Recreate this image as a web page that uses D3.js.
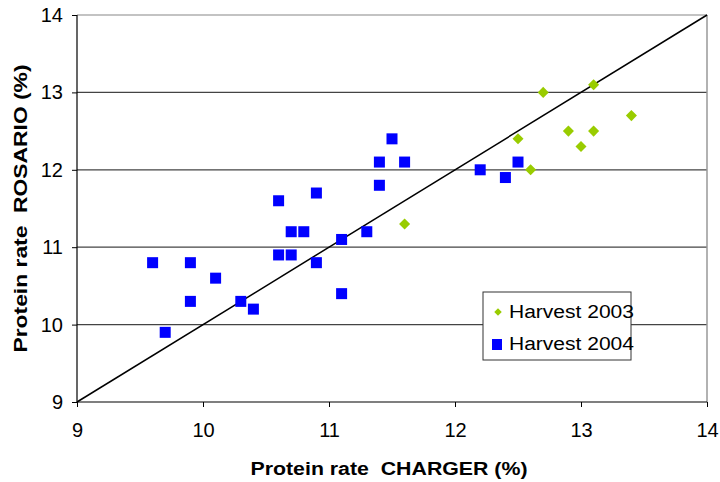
<!DOCTYPE html>
<html>
<head>
<meta charset="utf-8">
<script src="https://cdn.jsdelivr.net/npm/d3@7"></script>
<style>
  html, body { margin: 0; padding: 0; background: #fff; }
  svg { display: block; font-family: "Liberation Sans", Arial, sans-serif; }
</style>
</head>
<body>
<svg id="chart" width="720" height="482"></svg>
<script>
// Harvest 2003 (green diamonds): CHARGER x, ROSARIO y
const charger2003 = [11.6, 12.7, 12.5, 12.6, 12.9, 13.0, 13.1, 13.1, 13.4];
const rosario2003 = [11.3, 13.0, 12.4, 12.0, 12.5, 12.3, 12.5, 13.1, 12.7];
// Harvest 2004 (blue squares)
const charger2004 = [9.6, 9.7, 9.9, 9.9, 10.1, 10.3, 10.4, 10.6, 10.6, 10.7, 10.7, 10.8,
                     10.9, 10.9, 11.1, 11.1, 11.3, 11.4, 11.4, 11.5, 11.6, 12.2, 12.4, 12.5];
const rosario2004 = [10.8, 9.9, 10.8, 10.3, 10.6, 10.3, 10.2, 11.6, 10.9, 11.2, 10.9, 11.2,
                     11.7, 10.8, 11.1, 10.4, 11.2, 12.1, 11.8, 12.4, 12.1, 12.0, 11.9, 12.1];
const xTicks = [9, 10, 11, 12, 13, 14];
const yTicks = [9, 10, 11, 12, 13, 14];
const diagonal = [9, 14];
const seriesNames = ["Harvest 2003", "Harvest 2004"];

(function () {
const svg = d3.select("#chart");
const pL = 77, pR = 707, pT = 15, pB = 402;
const x = d3.scaleLinear().domain([9, 14]).range([pL, pR]);
const y = d3.scaleLinear().domain([9, 14]).range([pB, pT]);

// gridlines
svg.append("g").selectAll("line").data(yTicks.filter(t => t > 9)).join("line")
  .attr("x1", pL).attr("x2", pR)
  .attr("y1", d => y(d)).attr("y2", d => y(d))
  .attr("stroke", d => d === 14 ? "#888" : "#444").attr("stroke-width", 1.2);
// right border
svg.append("line").attr("x1", pR).attr("x2", pR).attr("y1", pT).attr("y2", pB)
  .attr("stroke", "#999").attr("stroke-width", 1.5);

// axes
const xAxis = d3.axisBottom(x).tickValues(xTicks).tickSize(5).tickPadding(20).tickFormat(d3.format("d"));
const gx = svg.append("g").attr("transform", `translate(0,${pB})`).call(xAxis);
const yAxis = d3.axisLeft(y).tickValues(yTicks).tickSize(5).tickPadding(9).tickFormat(d3.format("d"));
const gy = svg.append("g").attr("transform", `translate(${pL},0)`).call(yAxis);
[gx, gy].forEach(g => {
  g.select(".domain").attr("stroke", "#000").attr("stroke-width", 1.2);
  g.selectAll(".tick line").attr("stroke", "#000");
  g.selectAll(".tick text").attr("font-size", 20).attr("fill", "#000")
    .attr("font-family", "Liberation Sans, Arial, sans-serif");
});
gx.selectAll(".tick text").attr("dy", "0.5em");
gx.select(".domain").attr("d", `M${pL},0H${pR}`);
gy.select(".domain").attr("d", `M0,${pT}V${pB}`);

// diagonal
svg.append("line")
  .attr("x1", x(diagonal[0])).attr("y1", y(diagonal[0]))
  .attr("x2", x(diagonal[1])).attr("y2", y(diagonal[1]))
  .attr("stroke", "#000").attr("stroke-width", 1.5);

// 2004 squares
const sq = 11;
svg.append("g").selectAll("rect").data(charger2004.map((c, i) => [c, rosario2004[i]])).join("rect")
  .attr("x", d => x(d[0]) - sq / 2).attr("y", d => y(d[1]) - sq / 2)
  .attr("width", sq).attr("height", sq).attr("fill", "#0000ff");

// 2003 diamonds
const diamond = d3.symbol().type(d3.symbolDiamond2).size(78);
svg.append("g").selectAll("path").data(charger2003.map((c, i) => [c, rosario2003[i]])).join("path")
  .attr("d", diamond)
  .attr("transform", d => `translate(${x(d[0])},${y(d[1])})`)
  .attr("fill", "#99cc00");

// legend
const lg = svg.append("g");
lg.append("rect").attr("x", 483).attr("y", 292).attr("width", 148).attr("height", 68)
  .attr("fill", "#fff").attr("stroke", "#333").attr("stroke-width", 1);
lg.append("path").attr("d", d3.symbol().type(d3.symbolDiamond2).size(36))
  .attr("transform", "translate(498,312)").attr("fill", "#99cc00");
lg.append("rect").attr("x", 492).attr("y", 339).attr("width", 10).attr("height", 11).attr("fill", "#0000ff");
lg.selectAll("text").data(seriesNames).join("text")
  .attr("x", 509).attr("y", (d, i) => 318 + i * 32)
  .attr("font-size", 18).attr("fill", "#000")
  .attr("textLength", 125).attr("lengthAdjust", "spacingAndGlyphs")
  .text(d => d);

// axis titles
svg.append("text").attr("x", 389).attr("y", 475)
  .attr("text-anchor", "middle").attr("font-weight", "bold").attr("font-size", 18)
  .attr("textLength", 277).attr("lengthAdjust", "spacingAndGlyphs")
  .style("white-space", "pre").text("Protein rate  CHARGER (%)");
svg.append("text").attr("transform", `translate(27,${(pT + pB) / 2}) rotate(-90)`)
  .attr("text-anchor", "middle").attr("font-weight", "bold").attr("font-size", 18)
  .attr("textLength", 288).attr("lengthAdjust", "spacingAndGlyphs")
  .style("white-space", "pre").text("Protein rate  ROSARIO (%)");
})();
</script>
</body>
</html>
